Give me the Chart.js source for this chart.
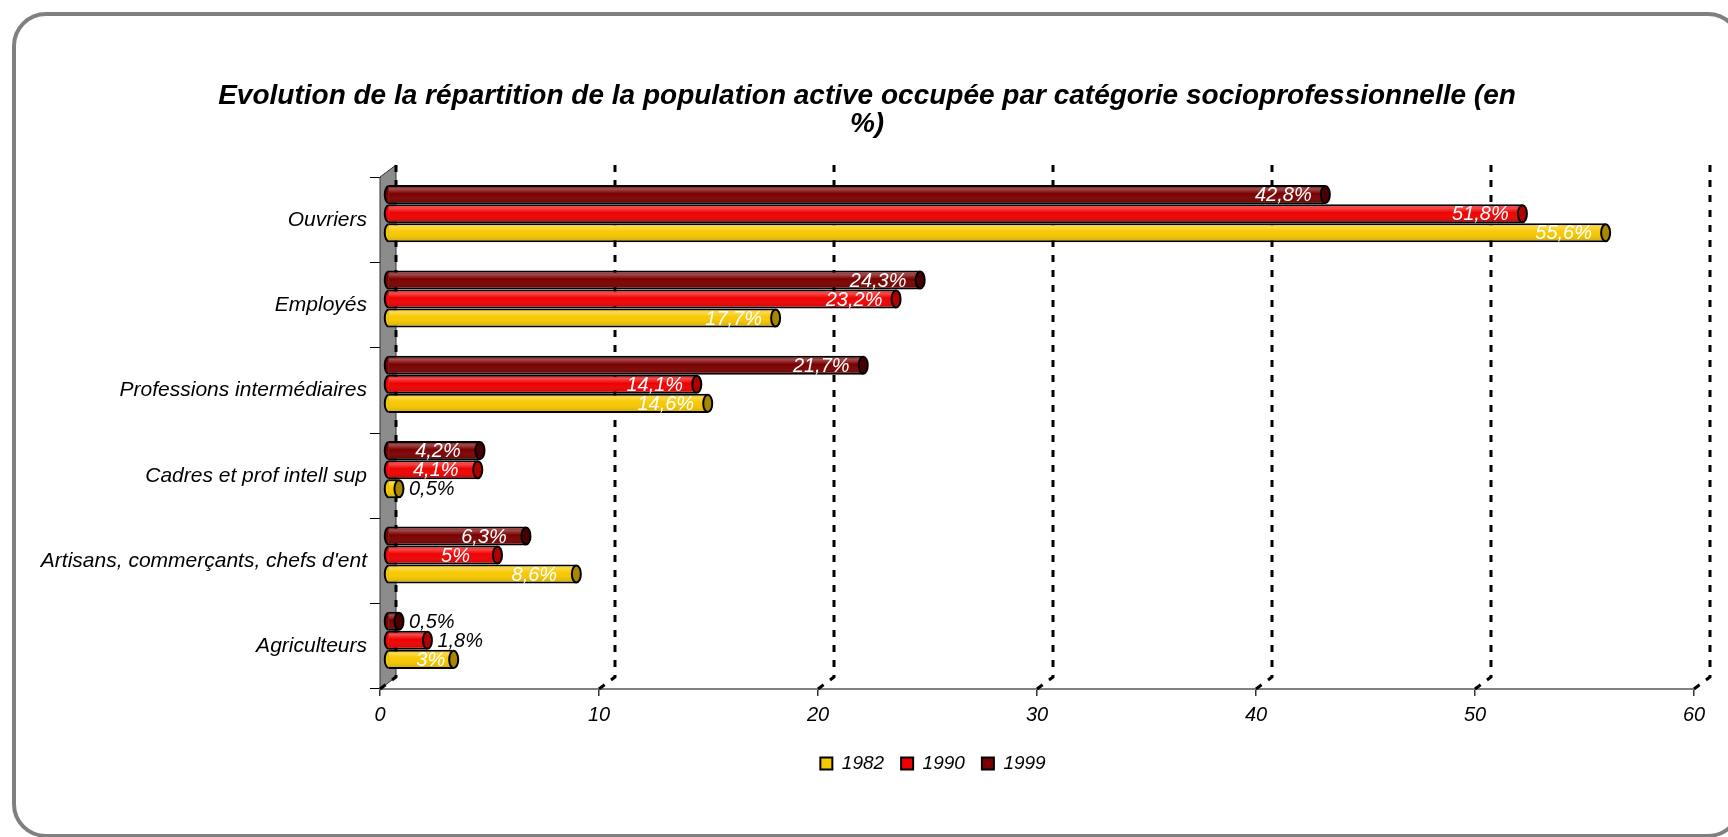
<!DOCTYPE html>
<html>
<head>
<meta charset="utf-8">
<script src="https://cdn.jsdelivr.net/npm/chart.js@4.4.0/dist/chart.umd.min.js"></script>
<style>
  html, body { margin: 0; padding: 0; background: #fff; overflow: hidden; }
  #frame { position: absolute; left: 12px; top: 12px; width: 1722px; height: 818px;
           border: 4px solid #808080; border-radius: 34px; }
  #c { position: absolute; left: 0; top: 0; }
</style>
</head>
<body>
<div id="frame"></div>
<canvas id="c" width="1728" height="837"></canvas>
<script>
// Data
const categories = ['Ouvriers', 'Employés', 'Professions intermédiaires', 'Cadres et prof intell sup',
    "Artisans, commerçants, chefs d'ent", 'Agriculteurs'];
const years = ['1999', '1990', '1982'];
const values1999 = [42.8, 24.3, 21.7, 4.2, 6.3, 0.5];
const values1990 = [51.8, 23.2, 14.1, 4.1, 5, 1.8];
const values1982 = [55.6, 17.7, 14.6, 0.5, 8.6, 3];
const xTicks = [0, 10, 20, 30, 40, 50, 60];

const barColors = ['#7A0000', '#F00000', '#F8C800'];
const capColors = ['#4A0000', '#B00000', '#A88600'];

const FONT = '"Liberation Sans", Arial, sans-serif';
const DX = 16, DY = -12; // 3D depth of the plot
const LEGEND_SHIFT = 66; // legend sits right of the title centre in the original

// Draws the grey wall, the dashed back grid and the cylinder look of the bars
const pseudo3d = {
    id: 'pseudo3d',
    afterLayout(chart) {
        if (chart.legend) {
            chart.legend.left += LEGEND_SHIFT;
            chart.legend.right += LEGEND_SHIFT;
        }
    },
    beforeDatasetsDraw(chart) {
        const { ctx, chartArea: a, scales: { x } } = chart;
        ctx.save();
        ctx.beginPath();
        ctx.moveTo(a.left, a.top);
        ctx.lineTo(a.left + DX, a.top + DY);
        ctx.lineTo(a.left + DX, a.bottom + DY);
        ctx.lineTo(a.left, a.bottom);
        ctx.closePath();
        ctx.fillStyle = '#8c8c8c';
        ctx.fill();
        ctx.strokeStyle = '#333';
        ctx.lineWidth = 1;
        ctx.stroke();

        ctx.setLineDash([7, 8]);
        ctx.lineWidth = 3;
        ctx.strokeStyle = '#000';
        xTicks.forEach(v => {
            const xf = x.getPixelForValue(v);
            ctx.beginPath();
            ctx.moveTo(xf + DX, a.top + DY);
            ctx.lineTo(xf + DX, a.bottom + DY);
            ctx.lineTo(xf, a.bottom);
            ctx.stroke();
        });
        ctx.restore();

        // bars sit at mid depth
        ctx.save();
        ctx.translate(DX / 2, DY / 2);
    },
    afterDatasetsDraw(chart) {
        const { ctx } = chart;
        chart.data.datasets.forEach((ds, di) => {
            const meta = chart.getDatasetMeta(di);
            meta.data.forEach((el, i) => {
                const { x: xe, y, base, height: h } = el.getProps(['x', 'y', 'base', 'height'], true);
                const top = y - h / 2;
                const g = ctx.createLinearGradient(0, top, 0, top + h);
                g.addColorStop(0, 'rgba(255,255,255,0)');
                g.addColorStop(0.2, 'rgba(255,255,255,0.3)');
                g.addColorStop(0.45, 'rgba(255,255,255,0)');
                g.addColorStop(1, 'rgba(0,0,0,0.2)');
                ctx.fillStyle = g;
                ctx.fillRect(base, top + 2, xe - base - 2, h - 4);

                // rounded left end
                ctx.beginPath();
                ctx.ellipse(base, y, 4, h / 2 - 1, 0, Math.PI / 2, Math.PI * 1.5);
                ctx.fillStyle = barColors[di];
                ctx.fill();
                ctx.lineWidth = 2;
                ctx.strokeStyle = '#000';
                ctx.stroke();

                // cap at the right end
                ctx.beginPath();
                ctx.ellipse(xe, y, 4.5, h / 2 - 1, 0, 0, Math.PI * 2);
                ctx.fillStyle = capColors[di];
                ctx.fill();
                ctx.stroke();

                // value label
                const v = ds.data[i];
                const txt = String(v).replace('.', ',') + '%';
                ctx.font = 'italic 20px ' + FONT;
                ctx.textBaseline = 'middle';
                if (v < 2.5) {
                    ctx.fillStyle = '#000';
                    ctx.textAlign = 'left';
                    ctx.fillText(txt, xe + 10, y + 1);
                } else {
                    ctx.fillStyle = '#fff';
                    ctx.textAlign = 'center';
                    ctx.fillText(txt, Math.max(xe - 42, base + 42), y + 1);
                }
            });
        });
        ctx.restore();
    }
};

function makeDataset(label, data, idx) {
    return {
        label: label,
        data: data,
        backgroundColor: barColors[idx],
        borderColor: '#000',
        borderWidth: 2,
        borderSkipped: 'start',
        barPercentage: 1,
        categoryPercentage: 0.67
    };
}

new Chart(document.getElementById('c').getContext('2d'), {
    type: 'bar',
    data: {
        labels: categories,
        datasets: [
            makeDataset(years[0], values1999, 0),
            makeDataset(years[1], values1990, 1),
            makeDataset(years[2], values1982, 2)
        ]
    },
    options: {
        indexAxis: 'y',
        responsive: false,
        animation: false,
        layout: { padding: { left: 40, right: 34, top: 0, bottom: 54 } },
        plugins: {
            tooltip: { enabled: false },
            title: {
                display: true,
                text: ['Evolution de la répartition de la population active occupée par catégorie socioprofessionnelle (en', '%)'],
                color: '#000',
                font: { family: FONT, size: 28, weight: 'bold', style: 'italic', lineHeight: 1.0 },
                padding: { top: 82, bottom: 39 }
            },
            legend: {
                position: 'bottom',
                reverse: true,
                labels: {
                    color: '#000',
                    font: { family: FONT, size: 19, style: 'italic' },
                    boxWidth: 12,
                    boxHeight: 12,
                    padding: 17
                }
            }
        },
        scales: {
            x: {
                min: 0,
                max: 60,
                afterFit: s => { s.height = 48; },
                border: { color: '#808080', width: 2 },
                grid: { drawOnChartArea: false, tickLength: 7, color: '#333', lineWidth: 1.5 },
                ticks: {
                    stepSize: 10,
                    padding: 7,
                    color: '#000',
                    font: { family: FONT, size: 20, style: 'italic' }
                }
            },
            y: {
                afterFit: s => { s.width = 340; },
                border: { display: false },
                grid: { drawOnChartArea: false, tickLength: 10, color: '#000', lineWidth: 1 },
                ticks: {
                    padding: 3,
                    color: '#000',
                    font: { family: FONT, size: 21, style: 'italic' }
                }
            }
        }
    },
    plugins: [pseudo3d]
});
</script>
</body>
</html>
